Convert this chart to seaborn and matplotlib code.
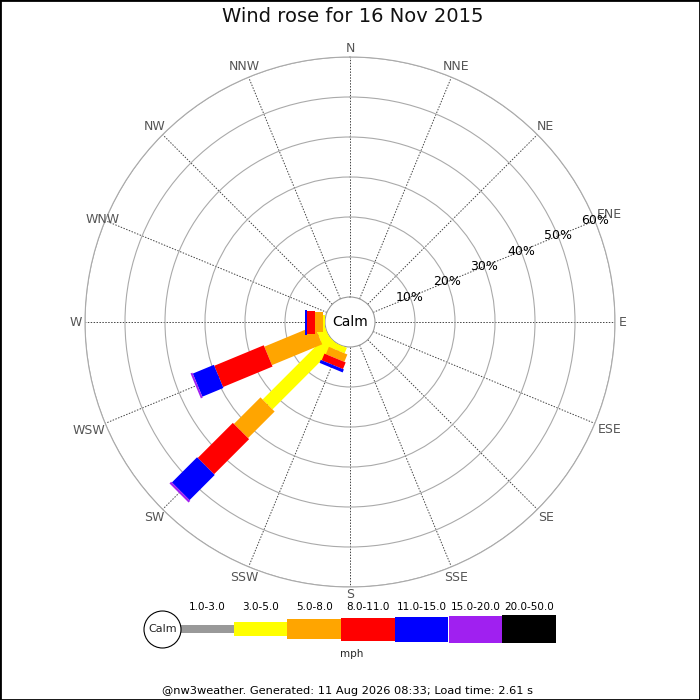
import numpy as np
import matplotlib
matplotlib.use('Agg')
import matplotlib.pyplot as plt
from matplotlib.patches import Rectangle
import seaborn as sns

# data: percent of time per direction and speed class (mph)
directions = ['N', 'NNE', 'NE', 'ENE', 'E', 'ESE', 'SE', 'SSE',
              'S', 'SSW', 'SW', 'WSW', 'W', 'WNW', 'NW', 'NNW']
speed_bins = ['1.0-3.0', '3.0-5.0', '5.0-8.0', '8.0-11.0',
              '11.0-15.0', '15.0-20.0', '20.0-50.0']
#            N  NNE NE ENE E ESE SE SSE S  SSW   SW    WSW   W   WNW NW NNW
pct_1_3   = [0, 0, 0, 0, 0, 0, 0, 0, 0, 0.0, 0.0, 0.0, 0.0, 0, 0, 0]
pct_3_5   = [0, 0, 0, 0, 0, 0, 0, 0, 0, 1.5, 22.9, 2.3, 0.4, 0, 0, 0]
pct_5_8   = [0, 0, 0, 0, 0, 0, 0, 0, 0, 2.0, 9.4, 13.6, 2.0, 0, 0, 0]
pct_8_11  = [0, 0, 0, 0, 0, 0, 0, 0, 0, 1.8, 12.4, 13.4, 2.0, 0, 0, 0]
pct_11_15 = [0, 0, 0, 0, 0, 0, 0, 0, 0, 0.8, 8.9, 5.7, 0.5, 0, 0, 0]
pct_15_20 = [0, 0, 0, 0, 0, 0, 0, 0, 0, 0.0, 0.6, 0.5, 0.0, 0, 0, 0]
pct_20_50 = [0, 0, 0, 0, 0, 0, 0, 0, 0, 0.0, 0.0, 0.0, 0.0, 0, 0, 0]
rings = [10, 20, 30, 40, 50, 60]

series = [pct_1_3, pct_3_5, pct_5_8, pct_8_11, pct_11_15, pct_15_20, pct_20_50]
colors = ['#999999', '#ffff00', '#ffa500', '#ff0000', '#0000ff', '#a020f0', '#000000']
arm_px = [8, 14, 20, 23, 25, 27, 28]   # arm thickness per speed class, pixels

sns.set_theme(style='white')
plt.rcParams['font.family'] = ['DejaVu Sans']

W = H = 700
R_CALM = 25          # calm circle radius, px
PX_PER_PCT = 4       # px per percent
RMAX = rings[-1]
OFF = R_CALM / PX_PER_PCT
R_OUT = R_CALM + RMAX * PX_PER_PCT
CX, CY = 350, 322

fig = plt.figure(figsize=(7, 7), dpi=100)
fig.patch.set_facecolor('white')

ax = fig.add_axes([(CX - R_OUT) / W, (H - CY - R_OUT) / H, 2 * R_OUT / W, 2 * R_OUT / H],
                  projection='polar')
ax.set_theta_zero_location('N')
ax.set_theta_direction(-1)
ax.set_ylim(0, RMAX)
ax.set_rorigin(-OFF)
ax.set_facecolor('white')

theta = np.deg2rad(np.arange(len(directions)) * 22.5)


def arm_segment(t, r0, r1, half):
    # straight-sided block along direction t, from r0 to r1 (percent), half width in percent units
    pts_t, pts_r = [], []
    for r, sgn in [(r0, -1), (r1, -1), (r1, 1), (r0, 1)]:
        s = r + OFF
        pts_t.append(t + sgn * np.arctan2(half, s))
        pts_r.append(np.hypot(s, half) - OFF)
    return pts_t, pts_r


# stacked arms
bottom = np.zeros(len(directions))
for vals, col, wpx in zip(series, colors, arm_px):
    vals = np.array(vals, dtype=float)
    for i in np.nonzero(vals > 0)[0]:
        tt, rr = arm_segment(theta[i], bottom[i], bottom[i] + vals[i], wpx / 2 / PX_PER_PCT)
        ax.fill(tt, rr, color=col, linewidth=0, zorder=3)
    bottom = bottom + vals

# grid
ax.set_xticks(theta)
ax.set_xticklabels([])
ax.set_yticks(rings)
ax.set_yticklabels([])
ax.xaxis.grid(True, color='#444444', linestyle=(0, (1.5, 1.5)), linewidth=0.7)
ax.yaxis.grid(True, color='#aaaaaa', linestyle='-', linewidth=0.8)
ax.set_axisbelow(True)
ax.spines['polar'].set_color('#aaaaaa')
ax.spines['polar'].set_linewidth(0.8)
ax.spines['inner'].set_color('#999999')
ax.spines['inner'].set_linewidth(0.8)
ax.tick_params(length=0)

# compass labels
label_r = {'N': 273, 'E': 273, 'S': 273, 'W': 274, 'WNW': 268,
           'ENE': 281, 'ESE': 281, 'WSW': 283}
for t, d in zip(theta, directions):
    ax.text(t, (label_r.get(d, 277) - R_CALM) / PX_PER_PCT, d, ha='center', va='center',
            fontsize=9, color='#555555', clip_on=False)

# percent labels along ENE
for r in rings:
    ax.text(np.deg2rad(67.5), r, f'{r}%', ha='center', va='center',
            fontsize=9, color='black', zorder=5)

ax.text(0.5, 0.5, 'Calm', transform=ax.transAxes, ha='center', va='center',
        fontsize=10, color='black')

fig.text(353 / W, 1 - 17 / H, 'Wind rose for 16 Nov 2015', ha='center', va='center',
         fontsize=14, color='#111111')

# legend strip
seg_px = 53.7
lx0, ly = 180, 629
lax = fig.add_axes([lx0 / W, (H - ly - 20) / H, len(speed_bins) * seg_px / W, 40 / H])
lax.set_xlim(0, len(speed_bins))
lax.set_ylim(-20, 20)
lax.axis('off')
hts = np.array(arm_px, dtype=float)
lax.bar(np.arange(len(speed_bins)) + 0.5, hts, width=1.0, bottom=-hts / 2,
        color=colors, edgecolor='none')
for i, lab in enumerate(speed_bins):
    lax.text(i + 0.5, 22, lab, ha='center', va='center', fontsize=7.5,
             color='black', clip_on=False)
calm_x = (162.3 - lx0) / seg_px
lax.plot([calm_x], [0], marker='o', markersize=37 * 0.72, markerfacecolor='white',
         markeredgecolor='black', markeredgewidth=0.8, clip_on=False, zorder=4)
lax.text(calm_x, 0, 'Calm', ha='center', va='center', fontsize=8, zorder=5)

fig.text(352 / W, 1 - 654 / H, 'mph', ha='center', va='center', fontsize=7.5)
fig.text(348 / W, 1 - 691 / H,
         '@nw3weather. Generated: 11 Aug 2026 08:33; Load time: 2.61 s',
         ha='center', va='center', fontsize=8.2, color='black')

fig.add_artist(Rectangle((0, 0), 1, 1, transform=fig.transFigure, fill=False,
                         edgecolor='black', linewidth=2))

fig.savefig('out.png', dpi=100)
